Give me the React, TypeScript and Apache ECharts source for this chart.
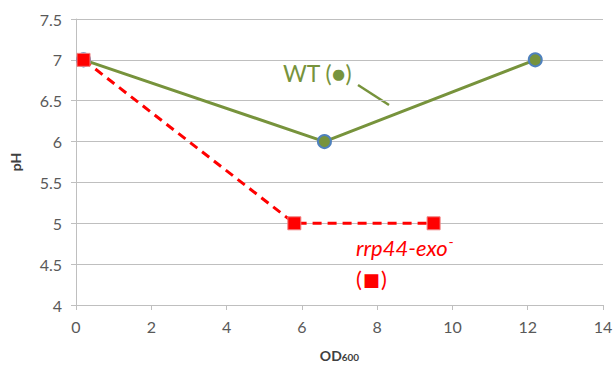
import React, { useEffect, useRef } from "react";
import * as echarts from "echarts";

const wtOD = [0.2, 6.6, 12.2];
const wtPH = [7, 6, 7];
const rrpOD = [0.2, 5.8, 9.5];
const rrpPH = [7, 5, 5];
const xTicks = [0, 2, 4, 6, 8, 10, 12, 14];
const yTicks = [4, 4.5, 5, 5.5, 6, 6.5, 7, 7.5];

const FONT = "Lato, 'Open Sans', sans-serif";

export default function App() {
  const ref = useRef<HTMLDivElement>(null);
  useEffect(() => {
    document.body.style.margin = "0";
    if (!ref.current) return;
    const chart = echarts.init(ref.current, null, { renderer: "svg" });
    chart.setOption({
      animation: false,
      backgroundColor: "#ffffff",
      grid: { left: 72, right: 13, top: 19, bottom: 61, containLabel: false },
      xAxis: {
        type: "value",
        min: xTicks[0],
        max: xTicks[xTicks.length - 1],
        interval: 2,
        name: "{b|OD}{s|600}",
        nameLocation: "middle",
        nameGap: 43,
        nameTextStyle: {
          rich: {
            b: { fontFamily: FONT, fontSize: 14, fontWeight: "bold", color: "#404040" },
            s: { fontFamily: FONT, fontSize: 10, fontWeight: "bold", color: "#404040", padding: [4, 0, 0, 0] },
          },
        },
        axisLine: { show: true, lineStyle: { color: "#BFBFBF", width: 1 } },
        axisTick: { show: true, length: 5, lineStyle: { color: "#BFBFBF" } },
        axisLabel: { color: "#595959", fontSize: 16, fontFamily: FONT, margin: 13 },
        splitLine: { show: false },
      },
      yAxis: {
        type: "value",
        min: yTicks[0],
        max: yTicks[yTicks.length - 1],
        interval: 0.5,
        name: "pH",
        nameLocation: "middle",
        nameGap: 54,
        nameTextStyle: { fontFamily: FONT, fontSize: 14, fontWeight: "bold", color: "#404040" },
        axisLine: { show: true, lineStyle: { color: "#BFBFBF", width: 1 } },
        axisTick: { show: true, length: 5, lineStyle: { color: "#BFBFBF" } },
        axisLabel: { color: "#595959", fontSize: 16, fontFamily: FONT, margin: 14 },
        splitLine: { show: true, lineStyle: { color: "#BFBFBF", width: 1 } },
      },
      series: [
        {
          name: "WT",
          type: "line",
          data: wtOD.map((x, i) => [x, wtPH[i]]),
          symbol: "circle",
          symbolSize: 13,
          lineStyle: { color: "#77933C", width: 3 },
          itemStyle: { color: "#77933C", borderColor: "#4F81BD", borderWidth: 2 },
          z: 2,
        },
        {
          name: "rrp44-exo-",
          type: "line",
          data: rrpOD.map((x, i) => [x, rrpPH[i]]),
          symbol: "rect",
          symbolSize: 13,
          lineStyle: { color: "#FF0000", width: 3, type: [9, 6] },
          itemStyle: { color: "#FF0000", borderColor: "#F08080", borderWidth: 1 },
          z: 3,
        },
      ],
      graphic: [
        {
          type: "text",
          left: 283,
          top: 61,
          style: { text: "WT (●)", fill: "#77933C", font: `23px ${FONT}` },
        },
        {
          type: "line",
          shape: { x1: 358, y1: 85, x2: 389, y2: 105 },
          style: { stroke: "#77933C", lineWidth: 2.5 },
        },
        {
          type: "text",
          left: 356,
          top: 234,
          style: {
            text: "{i|rrp44-exo}{sup|-}",
            rich: {
              i: { fill: "#FF0000", fontFamily: FONT, fontSize: 22, fontStyle: "italic" },
              sup: { fill: "#FF0000", fontFamily: FONT, fontSize: 14, padding: [0, 0, 12, 1] },
            },
          },
        },
        {
          type: "text",
          left: 356,
          top: 267,
          style: {
            text: "{p|(}{s|■}{p|)}",
            rich: {
              p: { fill: "#FF0000", fontFamily: FONT, fontSize: 22 },
              s: { fill: "#FF0000", fontFamily: "'DejaVu Sans', sans-serif", fontSize: 18, padding: [2, 1, 0, 1] },
            },
          },
        },
      ],
    });
    return () => chart.dispose();
  }, []);
  return <div ref={ref} style={{ width: 616, height: 367 }} />;
}
